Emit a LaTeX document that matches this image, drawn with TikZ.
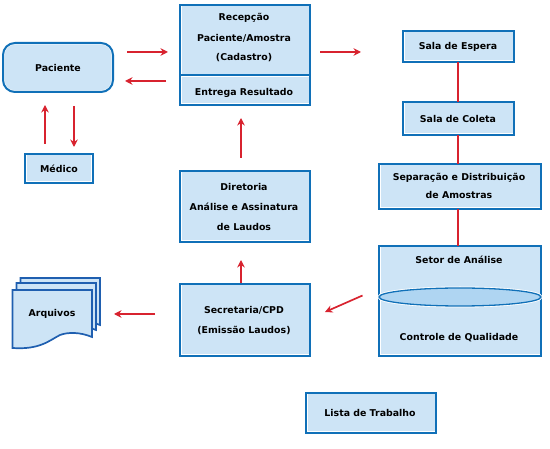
\documentclass[tikz,border=0pt]{standalone}
\usepackage{fontspec}
\setmainfont{DejaVu Sans}
\usetikzlibrary{arrows.meta}
\definecolor{boxfill}{HTML}{CDE4F6}
\definecolor{boxline}{HTML}{1070B8}
\definecolor{docline}{HTML}{1F5FB0}
\definecolor{ellfill}{HTML}{AFD5F2}
\definecolor{arrred}{HTML}{D8232F}
\tikzset{
  box/.style={draw=boxline,fill=boxfill,line width=2pt,inner sep=0pt,outer sep=0pt,anchor=north west,
    path picture={\draw[white,line width=3pt,rounded corners=#1] (path picture bounding box.south west) rectangle (path picture bounding box.north east);}},
  box/.default=0pt,
  lbl/.style={font=\fontsize{9.4pt}{11pt}\selectfont\bfseries,text=black,inner sep=0pt,align=center},
  arr/.style={draw=arrred,line width=1.7pt,-{Stealth[length=7.5pt,width=7.5pt]}},
  lnk/.style={draw=arrred,line width=1.7pt},
  doc/.style={draw=docline,fill=boxfill,line width=1.7pt,line join=miter}
}
\begin{document}
\begin{tikzpicture}[x=1pt,y=-1pt]
\useasboundingbox (0,0) rectangle (550,449);
% boxes
\node[box=12pt,rounded corners=12pt,minimum width=110pt,minimum height=49pt] (paciente) at (3,43) {};
\node[lbl] at (58,68) {Paciente};
\node[box,minimum width=67.5pt,minimum height=29pt] (medico) at (25,154) {};
\node[lbl] at (59,168.5) {Médico};
\node[box,minimum width=130pt,minimum height=70.5pt] (recepcao) at (180,5) {};
\node[box,minimum width=130pt,minimum height=29.5pt] (entrega) at (180,75.5) {};
\node[lbl] at (244,18) {Recepção};
\node[lbl] at (244,38) {Paciente/Amostra};
\node[lbl] at (244,58) {(Cadastro)};
\node[lbl] at (244,93) {Entrega Resultado};
\node[box,minimum width=130pt,minimum height=71pt] (diretoria) at (180,171) {};
\node[lbl] at (244,186.5) {Diretoria};
\node[lbl] at (244,207) {Análise e Assinatura};
\node[lbl] at (244,227) {de Laudos};
\node[box,minimum width=130pt,minimum height=72pt] (secretaria) at (180,284) {};
\node[lbl] at (244,310) {Secretaria/CPD};
\node[lbl] at (244,330.5) {(Emissão Laudos)};
\node[box,minimum width=111pt,minimum height=31pt] (espera) at (403,31) {};
\node[lbl] at (458,47) {Sala de Espera};
\node[box,minimum width=111pt,minimum height=33pt] (coleta) at (403,102) {};
\node[lbl] at (458,119) {Sala de Coleta};
\node[box,minimum width=162pt,minimum height=45pt] (separacao) at (379,164) {};
\node[lbl] at (459,178) {Separação e Distribuição};
\node[lbl] at (459,195) {de Amostras};
\node[box,minimum width=162pt,minimum height=110pt] (setor) at (379,246) {};
\draw[draw=white,line width=3pt] (460,297) ellipse [x radius=81pt,y radius=9pt];
\draw[draw=boxline,fill=ellfill,line width=1.3pt] (460,297) ellipse [x radius=81pt,y radius=9pt];
\node[lbl] at (459,260) {Setor de Análise};
\node[lbl] at (459,337.5) {Controle de Qualidade};
\node[box,minimum width=130pt,minimum height=40pt] (lista) at (306,393) {};
\node[lbl] at (370,413) {Lista de Trabalho};
% documents
\foreach \dx/\dy in {8/-12,4/-7,0/0}{
  \draw[doc,shift={(\dx,\dy)}] (12.5,290) -- (92,290) -- (92,337)
    .. controls (80,332) and (68,332) .. (60,335) .. controls (50,340) and (40,350) .. (12.5,348) -- cycle;
}
\node[lbl] (arquivos) at (52,314) {Arquivos};
% free ends
\coordinate (a1s) at (127,52); \coordinate (a1e) at (168,52);
\coordinate (a2s) at (166,81); \coordinate (a2e) at (125,81);
\coordinate (a3s) at (45,144); \coordinate (a3e) at (45,105);
\coordinate (a4s) at (74,106); \coordinate (a4e) at (74,147);
\coordinate (a5s) at (241,158); \coordinate (a5e) at (241,118);
\coordinate (a6s) at (320,52); \coordinate (a6e) at (361,52);
\coordinate (a7s) at (241,283); \coordinate (a7e) at (241,260);
\coordinate (a8s) at (155,314); \coordinate (a8e) at (114,314);
\coordinate (a9s) at (362.5,295.5); \coordinate (a9e) at (325,312);
\foreach \n in {1,...,9}{\draw[arr] (a\n s) -- (a\n e);}
% connectors
\draw[lnk] (espera.south -| 458,0) -- (coleta.north -| 458,0);
\draw[lnk] (coleta.south -| 458,0) -- (separacao.north -| 458,0);
\draw[lnk] (separacao.south -| 458,0) -- (setor.north -| 458,0);
\end{tikzpicture}
\end{document}
